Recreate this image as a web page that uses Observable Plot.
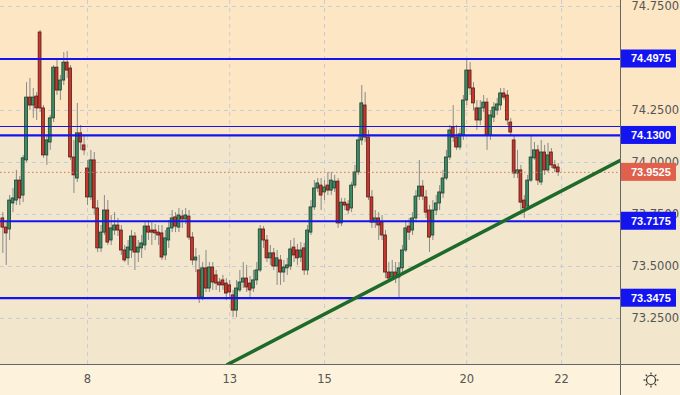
<!DOCTYPE html>
<html><head><meta charset="utf-8">
<script src="https://cdn.jsdelivr.net/npm/d3@7"></script>
<script src="https://cdn.jsdelivr.net/npm/@observablehq/plot@0.6"></script>
<style>
html,body{margin:0;padding:0;background:#F2E6CC;}
#chart svg{display:block;}
</style></head><body><div id="chart"></div>
<script>
const opens=[73.731,73.687,73.678,73.803,73.817,73.913,73.841,74.010,74.312,74.274,74.317,74.625,74.260,74.034,74.096,74.212,74.456,74.346,74.394,74.480,74.452,74.024,73.923,74.140,74.082,
73.971,73.832,74.010,73.779,73.587,73.663,73.769,73.625,73.673,73.697,73.673,73.577,73.539,73.577,73.644,73.567,73.587,73.601,73.692,73.673,73.673,73.663,73.659,73.553,73.625,73.683,73.736,73.687,73.740,73.726,73.740,73.639,73.529,73.481,73.351,73.491,73.394,73.495,73.457,73.423,73.433,73.418,
73.409,73.361,73.288,73.385,73.423,73.442,73.418,73.394,73.433,73.481,73.678,73.625,73.539,73.563,73.500,73.529,73.471,73.491,73.500,73.591,73.577,73.543,73.587,73.481,73.663,73.784,73.875,73.889,
73.856,73.889,73.865,73.875,73.908,73.707,73.807,73.798,73.779,73.889,73.952,74.106,74.274,74.120,73.832,73.711,73.731,73.711,73.649,73.471,73.447,73.471,73.447,73.491,73.577,73.692,73.673,73.731,73.836,73.884,73.832,73.769,73.649,73.769,73.803,73.851,73.923,74.024,74.168,74.120,74.072,74.130,
74.298,74.442,74.356,74.260,74.202,74.260,74.288,74.130,74.216,74.250,74.274,74.332,74.322,74.192,74.106,73.947,73.962,73.817,73.788,73.913,74.020,74.058,73.904,74.048,73.962,74.048,73.986,73.976];
const highs=[73.759,73.721,73.841,73.875,73.962,73.933,74.034,74.384,74.404,74.356,74.336,74.635,74.274,74.130,74.226,74.466,74.490,74.418,74.528,74.533,74.466,74.106,74.284,74.178,74.130,
74.010,74.058,74.048,73.817,73.697,73.841,73.817,73.745,73.759,73.731,73.697,73.601,73.625,73.673,73.663,73.625,73.649,73.711,73.721,73.711,73.702,73.697,73.697,73.673,73.721,73.769,73.759,73.779,73.769,73.779,73.769,73.663,73.587,73.553,73.519,73.577,73.519,73.519,73.481,73.442,73.457,73.442,
73.433,73.385,73.433,73.481,73.519,73.505,73.452,73.481,73.519,73.697,73.692,73.649,73.601,73.587,73.577,73.553,73.529,73.539,73.625,73.635,73.606,73.615,73.611,73.697,73.817,73.913,73.923,73.923,
73.913,73.952,73.952,73.938,73.923,73.827,73.827,73.817,73.904,73.986,74.130,74.370,74.336,74.154,73.865,73.769,73.759,73.745,73.673,73.519,73.529,73.519,73.519,73.601,73.721,73.731,73.759,73.865,74.010,73.913,73.865,73.793,73.817,73.841,73.889,73.962,74.058,74.178,74.274,74.178,74.163,74.322,
74.500,74.480,74.384,74.298,74.298,74.322,74.308,74.250,74.288,74.308,74.356,74.356,74.346,74.211,74.130,74.058,73.986,73.841,73.938,74.130,74.096,74.082,74.106,74.082,74.092,74.067,74.010,73.995];
const lows=[73.563,73.505,73.625,73.759,73.793,73.793,73.807,74.000,74.250,74.212,74.202,74.240,74.020,73.986,74.058,74.192,74.322,74.298,74.370,74.404,74.010,73.851,73.904,74.058,74.034,
73.793,73.817,73.745,73.567,73.567,73.649,73.601,73.601,73.649,73.644,73.553,73.519,73.505,73.539,73.481,73.519,73.539,73.577,73.625,73.601,73.625,73.601,73.529,73.529,73.587,73.663,73.663,73.663,73.683,73.702,73.625,73.505,73.471,73.322,73.336,73.375,73.375,73.385,73.385,73.375,73.385,73.336,
73.351,73.254,73.254,73.375,73.394,73.375,73.346,73.375,73.409,73.471,73.587,73.519,73.505,73.481,73.409,73.409,73.423,73.457,73.481,73.519,73.505,73.519,73.457,73.457,73.649,73.769,73.856,73.769,
73.817,73.841,73.841,73.856,73.683,73.692,73.769,73.750,73.759,73.875,73.938,74.082,74.096,73.817,73.683,73.683,73.625,73.625,73.442,73.423,73.433,73.418,73.346,73.457,73.567,73.625,73.649,73.711,73.817,73.817,73.731,73.567,73.625,73.745,73.769,73.827,73.913,74.010,74.096,74.058,74.058,74.106,
74.274,74.322,74.250,74.154,74.178,74.240,74.058,74.106,74.192,74.226,74.250,74.298,74.178,74.130,73.923,73.923,73.769,73.731,73.769,73.904,74.010,73.889,73.889,73.938,73.952,73.971,73.952,73.933];
const closes=[73.687,73.659,73.817,73.827,73.913,73.827,74.020,74.312,74.274,74.312,74.260,74.260,74.034,74.106,74.212,74.456,74.346,74.394,74.480,74.442,74.024,73.938,74.140,74.096,74.058,
73.832,74.010,73.779,73.587,73.663,73.769,73.615,73.683,73.697,73.673,73.577,73.529,73.591,73.644,73.567,73.591,73.611,73.692,73.663,73.663,73.659,73.649,73.543,73.635,73.683,73.731,73.692,73.745,73.726,73.745,73.639,73.529,73.543,73.346,73.491,73.394,73.495,73.423,73.418,73.409,73.409,73.370,
73.375,73.288,73.394,73.423,73.442,73.399,73.385,73.433,73.481,73.678,73.625,73.539,73.563,73.500,73.539,73.471,73.495,73.505,73.582,73.553,73.539,73.577,73.481,73.673,73.784,73.875,73.899,73.841,
73.880,73.865,73.913,73.908,73.707,73.807,73.793,73.769,73.889,73.952,74.106,74.284,74.120,73.832,73.711,73.731,73.697,73.649,73.471,73.442,73.471,73.447,73.491,73.577,73.683,73.663,73.731,73.836,73.884,73.836,73.759,73.639,73.769,73.803,73.856,73.923,74.024,74.154,74.120,74.072,74.135,74.298,
74.442,74.356,74.284,74.202,74.260,74.288,74.130,74.226,74.264,74.279,74.332,74.312,74.202,74.144,73.947,73.962,73.807,73.779,73.913,74.024,74.058,73.913,74.048,73.962,74.034,73.986,73.971,73.9525];

const firstIndex=-25;            // candle index of the first candle (day "8" opens at index 0)
const dayTicks=[0,42,70,112,140]; // candle index where each labelled day starts
const dayLabels=["8","13","15","20","22"];
const priceTicks=[74.75,74.5,74.25,74.0,73.75,73.5,73.25];
const priceTickLabels=[74.75,74.25,74.0,73.75,73.5,73.25]; // 74.5000 is hidden behind the 74.4975 tag
const levels=[74.4975,74.13,73.7175,73.3475];
const thinLevels=[74.173];
const lastPrice=73.9525;
const zoneFloor=74.13;
const trendIdx=[41.35,157.4];
const trendPrice=[73.029,74.010];
const xDomain=[-25.69,157.41];
const yDomain=[73.0288,74.7788];

const candles=closes.map((c,k)=>({i:firstIndex+k,o:opens[k],h:highs[k],l:lows[k],c}));
const trend=trendIdx.map((i,k)=>({i,p:trendPrice[k]}));
const up=d=>d.c>=d.o;

const chart=Plot.plot({
  width:680,height:395,marginLeft:0,marginRight:60,marginTop:0,marginBottom:31,
  style:{fontFamily:"DejaVu Sans",background:"#F2E6CC",overflow:"hidden"},
  x:{domain:xDomain,axis:null},
  y:{domain:yDomain,axis:null},
  marks:[
    Plot.rect([zoneFloor],{x1:()=>xDomain[0]-100,x2:()=>xDomain[1]+100,y1:d=>d,y2:()=>yDomain[1]+1,fill:"#FCE6C4"}),
    Plot.ruleY(priceTicks,{stroke:"#c9ccd6",strokeDasharray:"4,4"}),
    Plot.ruleX(dayTicks,{stroke:"#c9ccd6",strokeDasharray:"4,4"}),
    Plot.ruleX(candles,{x:"i",y1:"l",y2:"h",stroke:"#8a8a8a",strokeWidth:1,clip:true}),
    Plot.rect(candles,{x1:d=>d.i-0.42,x2:d=>d.i+0.42,y1:"o",y2:"c",
      fill:d=>up(d)?"#3d8c64":"#c4382d",stroke:d=>up(d)?"#1d3f2f":"#5c1a15",strokeWidth:0.8,clip:true}),
    Plot.ruleY(thinLevels,{stroke:"#1414f0",strokeWidth:1.2}),
    Plot.ruleY(levels,{stroke:"#1414f0",strokeWidth:2.2}),
    Plot.ruleY([lastPrice],{stroke:"#e0705c",strokeDasharray:"1.5,2.5",strokeWidth:1}),
    Plot.line(trend,{x:"i",y:"p",stroke:"#1e6a2a",strokeWidth:3.5,clip:true}),
    Plot.rect([0],{x1:()=>xDomain[0]-100,x2:()=>xDomain[1]+100,y1:()=>yDomain[0],y2:()=>yDomain[0]-1,fill:"#FDF2DB"}),
    Plot.text(priceTickLabels,{y:d=>d,frameAnchor:"right",dx:11,textAnchor:"start",lineAnchor:"middle",text:d=>d.toFixed(4),fill:"#555",fontSize:11.5}),
    Plot.text(dayTicks,{x:d=>d,frameAnchor:"bottom",dy:15,lineAnchor:"middle",text:(d,i)=>dayLabels[i],fill:"#555",fontSize:11.5})
  ]
});
document.getElementById("chart").appendChild(chart);

const svg=d3.select(chart);
const xs=chart.scale("x"), ys=chart.scale("y");
const xr=xs.apply(xDomain[1]);
const yb=ys.apply(yDomain[0]);
const g=svg.append("g").attr("text-anchor","start");
function tag(v,color){
  const y=ys.apply(v);
  g.append("rect").attr("x",xr).attr("y",y-9).attr("width",56).attr("height",18).attr("fill",color);
  g.append("text").attr("x",xr+11).attr("y",y).attr("dy","0.36em").attr("text-anchor","start")
    .attr("fill","#fff").attr("font-family","Liberation Sans, Arial, sans-serif").attr("font-weight","bold").attr("font-size",11).text(v.toFixed(4));
}
levels.forEach(v=>tag(v,"#1414f0"));
tag(lastPrice,"#e0604c");
g.append("line").attr("x1",0).attr("x2",680).attr("y1",yb+0.5).attr("y2",yb+0.5).attr("stroke","#666");
g.append("line").attr("x1",xr+0.5).attr("x2",xr+0.5).attr("y1",0).attr("y2",395).attr("stroke","#666");
const gx=xr+31, gy=yb+16;
g.append("circle").attr("cx",gx).attr("cy",gy).attr("r",4.5).attr("fill","none").attr("stroke","#333").attr("stroke-width",1.2);
for(let k=0;k<8;k++){const a=k*Math.PI/4;
  g.append("line").attr("x1",gx+5.5*Math.cos(a)).attr("y1",gy+5.5*Math.sin(a)).attr("x2",gx+7.5*Math.cos(a)).attr("y2",gy+7.5*Math.sin(a)).attr("stroke","#333").attr("stroke-width",1.2);}
</script></body></html>
